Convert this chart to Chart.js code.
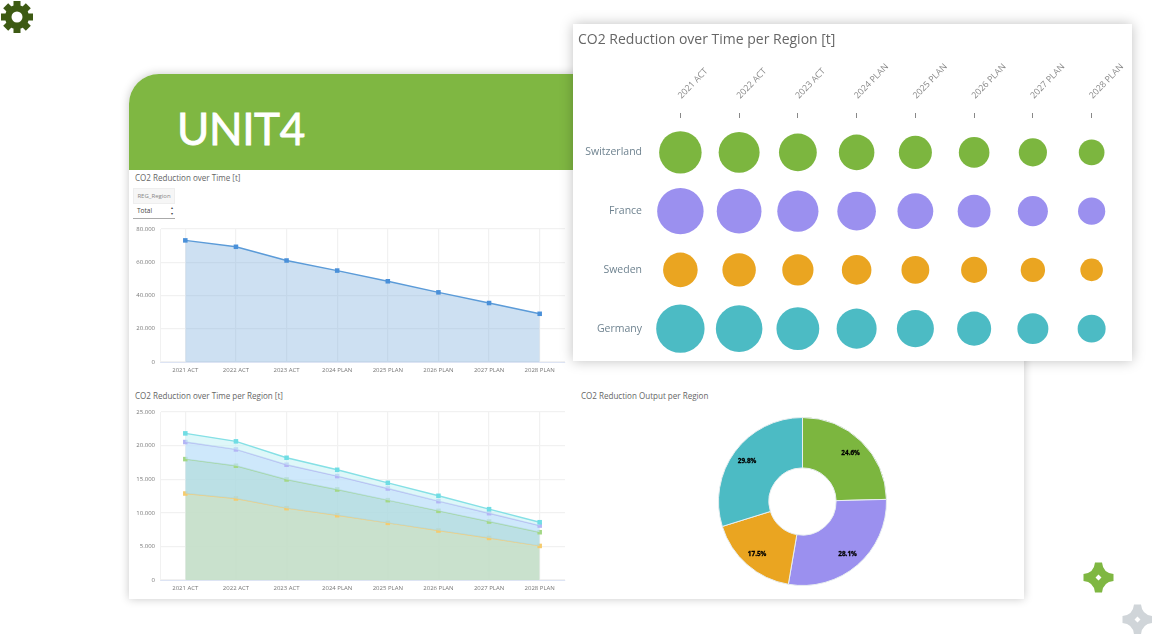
<!DOCTYPE html>
<html>
<head>
<meta charset="utf-8">
<script src="https://cdn.jsdelivr.net/npm/chart.js@4/dist/chart.umd.min.js"></script>
<style>
  html, body { margin: 0; padding: 0; background: #fff; }
  body { width: 1152px; height: 634px; position: relative; overflow: hidden; font-family: 'Open Sans', sans-serif; color: #666; }
  .abs { position: absolute; }
  canvas { position: absolute; }
  #card { left: 129px; top: 74px; width: 895px; height: 525px; background: #fff; border-top-left-radius: 30px; box-shadow: 0 0 10px rgba(0,0,0,.22); }
  #banner { left: 129px; top: 74px; width: 895px; height: 96px; background: #7fb742; border-top-left-radius: 30px; }
  #logo { left: 177px; top: 98px; font-family: Lato, sans-serif; font-size: 44px; letter-spacing: -.4px; line-height: 60px; color: #fff; -webkit-text-stroke: .8px #fff; }
  .title { font-size: 8.05px; line-height: 12px; white-space: nowrap; color: #666; }
  #btn { left: 133px; top: 188px; width: 42px; height: 16px; background: #f6f6f6; border: 1px solid #eee; box-sizing: border-box; font-size: 6px; line-height: 14px; text-align: center; color: #888; }
  #sel { left: 133px; top: 205px; width: 42px; height: 13px; border-bottom: 1px solid #aaa; font-size: 6.5px; line-height: 12px; color: #444; }
  #sel span { position: absolute; left: 4px; }
  #sel i { position: absolute; right: 2px; top: 0; font-style: normal; font-size: 4px; line-height: 6px; }
  #popup { left: 573px; top: 24px; width: 559px; height: 337px; background: #fff; box-shadow: 0 0 12px rgba(0,0,0,.25); }
  #popupTitle { left: 578px; top: 29px; font-size: 14px; line-height: 20px; white-space: nowrap; color: #666; }
</style>
</head>
<body>

<svg class="abs" style="left:0;top:0" width="34" height="34" viewBox="-17 -17 34 34">
  <g fill="#3d5a13">
    <circle r="12"/>
    <rect x="-3.5" y="-16" width="7" height="32"/>
    <rect x="-3.5" y="-16" width="7" height="32" transform="rotate(45)"/>
    <rect x="-3.5" y="-16" width="7" height="32" transform="rotate(90)"/>
    <rect x="-3.5" y="-16" width="7" height="32" transform="rotate(135)"/>
  </g>
  <circle r="5.5" fill="#fff"/>
</svg>

<div id="card" class="abs"></div>
<div id="banner" class="abs"></div>
<div id="logo" class="abs">UNIT4</div>

<div class="abs title" style="left:135px;top:172px">CO2 Reduction over Time [t]</div>
<div id="btn" class="abs">REG_Region</div>
<div id="sel" class="abs"><span>Total</span><i>▴<br>▾</i></div>
<canvas id="totalChart" style="left:130px;top:222px;width:437px;height:155px"></canvas>

<div class="abs title" style="left:135px;top:390px">CO2 Reduction over Time per Region [t]</div>
<canvas id="regionChart" style="left:130px;top:405px;width:437px;height:190px"></canvas>

<div class="abs title" style="left:581px;top:390px">CO2 Reduction Output per Region</div>
<canvas id="donutChart" style="left:718px;top:417px;width:169px;height:169px"></canvas>

<div id="popup" class="abs"></div>
<div id="popupTitle" class="abs">CO2 Reduction over Time per Region [t]</div>
<canvas id="bubbleChart" style="left:573px;top:30px;width:559px;height:331px"></canvas>

<svg class="abs" style="left:1083px;top:562px" width="31" height="31" viewBox="-15.5 -15.5 31 31">
  <path fill="#7fb742" fill-rule="evenodd" d="M-3.5,-15 L3.5,-15 Q4.5,-4.5 15,-3.5 L15,3.5 Q4.5,4.5 3.5,15 L-3.5,15 Q-4.5,4.5 -15,3.5 L-15,-3.5 Q-4.5,-4.5 -3.5,-15 Z M0,-3 L-3,0 L0,3 L3,0 Z"/>
</svg>
<svg class="abs" style="left:1122px;top:604px" width="31" height="31" viewBox="-15.5 -15.5 31 31">
  <path fill="#d0d5d9" fill-rule="evenodd" d="M-3.5,-15 L3.5,-15 Q4.5,-4.5 15,-3.5 L15,3.5 Q4.5,4.5 3.5,15 L-3.5,15 Q-4.5,4.5 -15,3.5 L-15,-3.5 Q-4.5,-4.5 -3.5,-15 Z M0,-3 L-3,0 L0,3 L3,0 Z"/>
</svg>

<script>
const years = ['2021 ACT', '2022 ACT', '2023 ACT', '2024 PLAN', '2025 PLAN', '2026 PLAN', '2027 PLAN', '2028 PLAN'];
const regions = ['Switzerland', 'France', 'Sweden', 'Germany'];

const total = [73150, 69300, 61050, 55000, 48560, 41900, 35470, 29000];
const germany = [21820, 20630, 18190, 16400, 14460, 12530, 10540, 8600];
const france = [20530, 19430, 17150, 15460, 13620, 11730, 9940, 8100];
const switzerland = [17990, 17000, 14960, 13470, 11880, 10290, 8700, 7110];
const sweden = [12870, 12130, 10690, 9640, 8500, 7360, 6260, 5070];
const outputShare = [24.6, 28.1, 17.5, 29.8];

const totalTicks = [0, 20000, 40000, 60000, 80000];
const regionTicks = [0, 5000, 10000, 15000, 20000, 25000];

const green = '#7cb63f', purple = '#9b90ef', orange = '#eaa521', teal = '#4cbbc4';

Chart.defaults.font.family = "'Open Sans', sans-serif";
Chart.defaults.animation = false;
Chart.defaults.responsive = false;
Chart.defaults.devicePixelRatio = 1;
Chart.defaults.plugins.legend.display = false;
Chart.defaults.plugins.tooltip.enabled = false;

// keep the plot box fixed, no extra room for overhanging labels
function fixAxis(s, size) {
  if (s.isHorizontal()) s.height = size; else s.width = size;
  s.paddingLeft = s.paddingRight = s.paddingTop = s.paddingBottom = 0;
}

function areaOptions(maxValue, ticks, axisHeight) {
  return {
    layout: { autoPadding: false, padding: { top: 7, right: 2 } },
    scales: {
      x: {
        offset: true,
        grid: { color: '#f1f1f1', lineWidth: 1.2, drawTicks: false },
        border: { color: '#dde4f4' },
        ticks: { color: '#777', font: { size: 6 }, padding: 5, maxRotation: 0, autoSkip: false },
        afterFit: s => fixAxis(s, axisHeight)
      },
      y: {
        min: 0,
        max: maxValue,
        afterBuildTicks: s => { s.ticks = ticks.map(v => ({ value: v })); },
        grid: { color: '#f1f1f1', lineWidth: 1.2, drawTicks: false },
        border: { color: '#f1f1f1' },
        ticks: {
          color: '#777',
          font: { size: 6 },
          padding: 5,
          callback: v => v.toLocaleString('de-DE')
        },
        afterFit: s => fixAxis(s, 30)
      }
    }
  };
}

function areaSet(values, line, point, band, fillTo) {
  return {
    data: values,
    borderColor: line,
    borderWidth: 1.4,
    backgroundColor: band,
    fill: fillTo,
    tension: 0,
    pointStyle: 'rect',
    pointRadius: 3.2,
    pointBorderWidth: 0,
    pointBackgroundColor: point
  };
}

new Chart(document.getElementById('totalChart'), {
  type: 'line',
  data: {
    labels: years,
    datasets: [areaSet(total, '#5b9bd8', '#4a90d9', 'rgba(120,170,220,.37)', 'origin')]
  },
  options: areaOptions(80000, totalTicks, 15)
});

new Chart(document.getElementById('regionChart'), {
  type: 'line',
  data: {
    labels: years,
    datasets: [
      areaSet(germany, '#85e0e5', '#70dde4', 'rgba(200,242,245,.6)', '+1'),
      areaSet(france, '#b7bcf2', '#b3b5f5', 'rgba(190,224,250,.75)', '+1'),
      areaSet(switzerland, '#a5d6a5', '#a3d785', 'rgba(175,218,224,.85)', '+1'),
      areaSet(sweden, '#f0ce82', '#f5cb6e', 'rgba(195,222,200,.9)', 'origin')
    ]
  },
  options: areaOptions(25000, regionTicks, 15)
});

// percent labels sit near the outer edge of each slice
const sliceLabels = {
  id: 'sliceLabels',
  afterDatasetsDraw(chart) {
    const { ctx } = chart;
    ctx.save();
    ctx.font = "bold 6.4px 'Open Sans', sans-serif";
    ctx.fillStyle = '#000';
    ctx.strokeStyle = '#000';
    ctx.lineWidth = 0.3;
    ctx.textAlign = 'center';
    ctx.textBaseline = 'middle';
    chart.getDatasetMeta(0).data.forEach((arc, i) => {
      const mid = (arc.startAngle + arc.endAngle) / 2;
      const r = arc.outerRadius * 0.82;
      const text = outputShare[i].toFixed(1) + '%';
      const x = arc.x + Math.cos(mid) * r;
      const y = arc.y + Math.sin(mid) * r + 1;
      ctx.fillText(text, x, y);
      ctx.strokeText(text, x, y);
    });
    ctx.restore();
  }
};

new Chart(document.getElementById('donutChart'), {
  type: 'doughnut',
  data: {
    labels: regions,
    datasets: [{
      data: outputShare,
      backgroundColor: [green, purple, orange, teal],
      borderColor: '#e8eef0',
      borderWidth: 1
    }]
  },
  options: { cutout: '40%' },
  plugins: [sliceLabels]
});

// bubble radius grows linearly with the yearly value
function bubbleSet(region, values, color) {
  return {
    data: values.map((v, i) => ({ x: years[i], y: region, r: 7.36 + v * 0.000772 })),
    backgroundColor: color,
    borderWidth: 0
  };
}

new Chart(document.getElementById('bubbleChart'), {
  type: 'bubble',
  data: {
    datasets: [
      bubbleSet('Switzerland', switzerland, green),
      bubbleSet('France', france, purple),
      bubbleSet('Sweden', sweden, orange),
      bubbleSet('Germany', germany, teal)
    ]
  },
  options: {
    layout: { autoPadding: false, padding: { right: 11, bottom: 3 } },
    scales: {
      x: {
        type: 'category',
        labels: years,
        position: 'top',
        offset: true,
        grid: { drawOnChartArea: false, tickLength: 10, tickBorderDash: [5, 5], tickColor: '#888' },
        border: { display: false },
        ticks: { color: '#888', font: { size: 8.8 }, padding: 12, labelOffset: 7, minRotation: 46, maxRotation: 46, autoSkip: false },
        afterFit: s => fixAxis(s, 93)
      },
      y: {
        type: 'category',
        labels: regions,
        offset: true,
        grid: { display: false, drawTicks: false },
        border: { display: false },
        ticks: { color: '#6f8390', font: { size: 10.5 }, padding: 9 },
        afterFit: s => fixAxis(s, 78)
      }
    }
  }
});
</script>
</body>
</html>
